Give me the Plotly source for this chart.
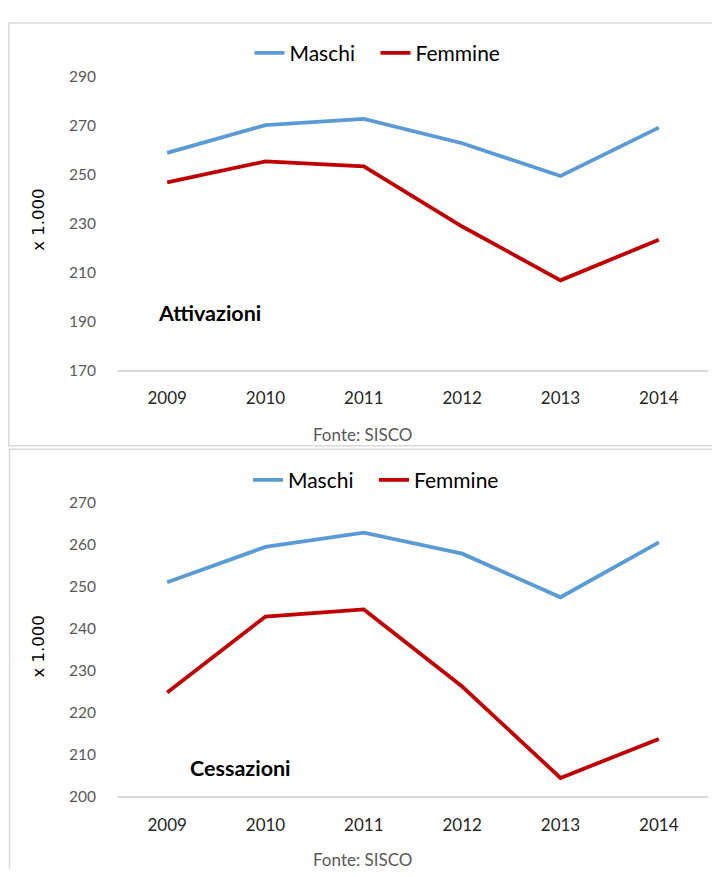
import plotly.graph_objects as go

# ---------------- data ----------------
years = ["2009", "2010", "2011", "2012", "2013", "2014"]

att_maschi = [258.8, 270.1, 272.7, 262.7, 249.3, 269.1]
att_femmine = [246.7, 255.3, 253.3, 228.7, 206.7, 223.3]

ces_maschi = [251.1, 259.5, 262.9, 257.9, 247.5, 260.6]
ces_femmine = [224.8, 242.9, 244.6, 226.2, 204.4, 213.7]

att_ticks = [170, 190, 210, 230, 250, 270, 290]
ces_ticks = [200, 210, 220, 230, 240, 250, 260, 270]

series_names = ["Maschi", "Femmine"]
series_colors = ["#5B9BD5", "#C00000"]

# ---------------- layout helpers ----------------
# the page body has an 8px margin, so the figure is 16px smaller than the window
OFF = 8
W, H = 720 - 2 * OFF, 877 - 2 * OFF


def X(px):  # page pixel -> paper x
    return (px - OFF) / W


def Y(py):  # page pixel -> paper y
    return 1 - (py - OFF) / H


FONT = "Lato, 'Open Sans', sans-serif"

fig = go.Figure()

for name, color, vals in zip(series_names, series_colors, [att_maschi, att_femmine]):
    fig.add_trace(go.Scatter(x=years, y=vals, mode="lines", name=name,
                             line=dict(color=color, width=3.8),
                             xaxis="x", yaxis="y", legend="legend"))
for name, color, vals in zip(series_names, series_colors, [ces_maschi, ces_femmine]):
    fig.add_trace(go.Scatter(x=years, y=vals, mode="lines", name=name,
                             line=dict(color=color, width=3.8),
                             xaxis="x2", yaxis="y2", legend="legend2"))

xaxis_common = dict(type="category", range=[-0.5, 5.5], showline=True,
                    linecolor="#d9d9d9", linewidth=1.5, showgrid=False,
                    zeroline=False, ticks="", ticklabelstandoff=12,
                    tickfont=dict(family=FONT, size=17, color="#262626"),
                    fixedrange=True)
yaxis_common = dict(showline=False, showgrid=False, zeroline=False, ticks="",
                    ticklabelstandoff=21,
                    tickfont=dict(family=FONT, size=15.5, color="#595959"),
                    fixedrange=True)

legend_common = dict(orientation="h", xanchor="left", yanchor="middle",
                     bgcolor="rgba(0,0,0,0)", entrywidth=81, entrywidthmode="pixels",
                     font=dict(family=FONT, size=21, color="#000000"),
                     itemclick=False, itemdoubleclick=False)


def note(text, px, py, size, color="#000000", family=FONT, angle=0):
    return dict(text=text, xref="paper", yref="paper", x=X(px), y=Y(py),
                xanchor="center", yanchor="middle", textangle=angle,
                showarrow=False, font=dict(family=family, size=size, color=color))


fig.update_layout(
    width=W, height=H,
    margin=dict(l=0, r=0, t=0, b=0),
    paper_bgcolor="white", plot_bgcolor="white",
    showlegend=True,
    xaxis=dict(domain=[X(118), X(708)], anchor="y", **xaxis_common),
    yaxis=dict(domain=[Y(367.7), Y(67.7)], anchor="x", range=[170, 290],
               tickvals=att_ticks, **yaxis_common),
    xaxis2=dict(domain=[X(118), X(708)], anchor="y2", **xaxis_common),
    yaxis2=dict(domain=[Y(803), Y(503.3)], anchor="x2", range=[200, 270],
                tickvals=ces_ticks, **yaxis_common),
    legend=dict(x=X(249.5), y=Y(44), **legend_common),
    legend2=dict(x=X(248), y=Y(480), **legend_common),
    shapes=[
        dict(type="rect", xref="paper", yref="paper", x0=X(8.8), x1=X(760),
             y0=Y(445), y1=Y(13), line=dict(color="#d9d9d9", width=1.5), layer="below"),
        dict(type="rect", xref="paper", yref="paper", x0=X(9.5), x1=X(760),
             y0=Y(920), y1=Y(448.5), line=dict(color="#d9d9d9", width=1.5), layer="below"),
    ],
    annotations=[
        note("x 1.000", 39, 214, 16.5, family="DejaVu Sans", angle=-90),
        note("x 1.000", 39, 650, 16.5, family="DejaVu Sans", angle=-90),
        note("<b>Attivazioni</b>", 209, 309, 21.5),
        note("<b>Cessazioni</b>", 240, 774, 21.5),
        note("Fonte: SISCO", 362, 433, 17, color="#595959"),
        note("Fonte: SISCO", 362, 867, 17, color="#595959"),
    ],
)

fig.write_html("out.html")
